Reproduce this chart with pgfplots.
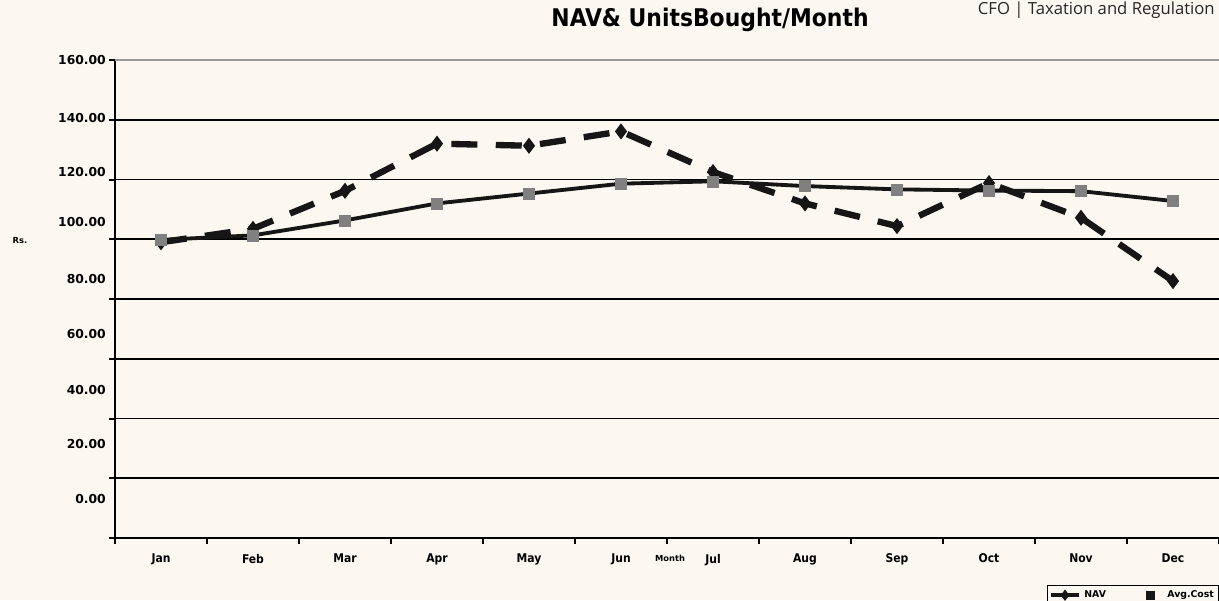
\documentclass[border=0pt]{standalone}
\usepackage{fontspec}
\setmainfont{DejaVu Sans}
\newfontfamily\condfont{DejaVu Sans Condensed}
\newfontfamily\cfofont{Open Sans}
\usepackage{pgfplots}
\pgfplotsset{compat=1.18}
\definecolor{bgc}{RGB}{252,248,241}
\definecolor{sq}{RGB}{128,128,128}
\definecolor{ln}{RGB}{22,22,22}
\begin{document}
\begin{tikzpicture}
% page: 1219 x 600 px, 1px = 0.6pt, axis box from (115,538) to (1219,60)
\fill[bgc] (-69pt,-37.2pt) rectangle (662.4pt,322.8pt);
\begin{axis}[
  at={(0,0)}, anchor=south west,
  scale only axis,
  width=662.4pt, height=286.8pt,
  xmin=0.5, xmax=12.5,
  ymin=0, ymax=160,
  axis x line*=bottom, axis y line*=left,
  axis line style={black, line width=1.3pt},
  xtick={0.5,1.5,...,12.5}, xticklabels={},
  ytick={0,20,...,160}, yticklabels={},
  tick align=outside,
  major tick length=3.6pt,
  tick style={black, line width=1.2pt},
  ymajorgrids,
  major grid style={black, line width=1.1pt},
  extra x ticks={1,2,...,12},
  extra x tick labels={Jan,Feb,Mar,Apr,May,Jun,Jul,Aug,Sep,Oct,Nov,Dec},
  extra x tick style={major tick length=0pt, grid=none,
    xticklabel style={yshift=-6pt}},
  extra y ticks={160,140.6,122.5,105.8,86.7,68.3,49.5,31.5,13},
  extra y tick labels={160.00,140.00,120.00,100.00,80.00,60.00,40.00,20.00,0.00},
  extra y tick style={major tick length=0pt, grid=none,
    yticklabel style={xshift=-2pt}},
  /pgf/number format/assume math mode=true,
  ticklabel style={font=\bfseries\fontsize{7.4}{8}\selectfont, text=black},
  xticklabel style={font=\condfont\bfseries\fontsize{7.2}{8}\selectfont},
  legend columns=2,
  legend style={at={(rel axis cs:1,0)}, anchor=north east, yshift=-28.4pt,
    draw=black, line width=0.6pt, fill=bgc,
    font=\bfseries\fontsize{5.6}{6}\selectfont,
    inner sep=0.8pt, row sep=-1pt,
    /tikz/every even column/.append style={column sep=20pt}},
  clip=false,
]
\draw[sq!80, line width=1.1pt] (axis cs:0.5,160) -- (axis cs:12.5,160);

\addlegendimage{ln, line width=2.2pt, mark=diamond*, mark size=1.6pt}
\addlegendentry{NAV}
\addlegendimage{legend image code/.code={
  \path[draw=none] (0,0) -- (0.45cm,0);
  \fill[ln] (0.08cm,-0.08cm) rectangle (0.24cm,0.08cm);}}
\addlegendentry{Avg.Cost}

% NAV
\addplot[forget plot, ln, line width=3.8pt, dash pattern=on 15.6pt off 11pt,
  mark=diamond*, mark size=1.7pt, mark options={solid, fill=ln, draw=ln}]
  coordinates {
  (1,99.0) (2,103.5) (3,116.2) (4,132.0) (5,131.3) (6,136.1)
  (7,122.5) (8,112.0) (9,104.4) (10,118.8) (11,107.2) (12,86.0)};
% Avg. cost
\addplot[forget plot, ln, line width=2.3pt,
  mark=square*, mark size=3.3pt, mark options={fill=sq, draw=sq, line width=0.3pt}]
  coordinates {
  (1,99.8) (2,101.3) (3,106.3) (4,112.0) (5,115.3) (6,118.6)
  (7,119.4) (8,117.8) (9,116.7) (10,116.3) (11,116.1) (12,112.8)};
\end{axis}
\node[font=\condfont\bfseries\fontsize{14.6}{15}\selectfont] at (357pt,311pt)
  {NAV\& UnitsBought/Month};
\node[font=\bfseries\fontsize{5}{6}\selectfont] at (-57pt,178.2pt) {Rs.};
\node[font=\bfseries\fontsize{5}{6}\selectfont] at (333pt,-12pt) {Month};
\node[anchor=north east, inner sep=0pt, text=black!85,
  font=\cfofont\fontsize{10}{11}\selectfont] at (660pt,322pt)
  {CFO | Taxation and Regulation};
\pgfresetboundingbox
\useasboundingbox (-69pt,-37.2pt) rectangle (662.4pt,322.8pt);
\end{tikzpicture}
\end{document}
